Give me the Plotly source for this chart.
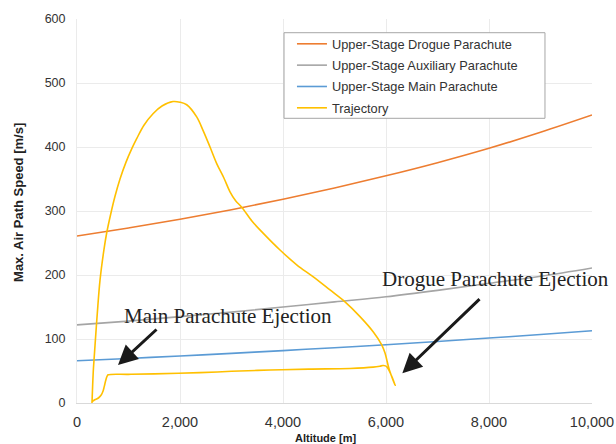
import plotly.graph_objects as go

# ---- data ----
alt_grid = [0, 1000, 2000, 3000, 4000, 5000, 6000, 7000, 8000, 9000, 10000]
drogue = [261, 273.5, 287, 302, 318.5, 336, 355, 375.5, 398, 423, 450]
auxiliary = [122, 128, 135, 142, 150, 158, 166, 176, 187, 198, 211]
main = [66, 69.6, 73.5, 77.6, 81.9, 86.4, 91.1, 96.2, 101.5, 107.1, 113]

traj_alt = [291, 305, 320, 350, 394, 447, 524, 577, 654, 738, 835, 950, 1062, 1159, 1300, 1476, 1650,
            1864, 2000, 2130, 2324, 2447, 2583, 2713, 2850, 2971, 3080, 3198, 3400, 3618, 3942,
            4266, 4589, 4913, 5204, 5495, 5754, 5917, 5981, 6064, 6175,
            6120, 6064, 6030, 5990, 5940, 5880, 5750, 5300, 4500, 3748, 3000, 2388,
            1500, 1000, 605, 585, 560, 530, 508, 480, 443, 400, 345, 293]
traj_spd = [0, 30, 55, 90, 140, 192, 240, 266, 295, 323, 350, 376, 397, 413, 434, 452, 464,
            471, 470, 466, 447, 426, 400, 374, 352, 330, 316, 306, 284, 265, 239,
            216, 197, 176.6, 158, 135, 111, 91, 78, 52, 28,
            40, 50, 55, 58, 58.5, 57.5, 56, 54, 53, 51.5, 49.5, 47.4,
            45.5, 44.8, 44, 42, 36, 26, 19, 14, 10, 7, 5, 2]

x_ticks = [0, 2000, 4000, 6000, 8000, 10000]
y_ticks = [0, 100, 200, 300, 400, 500, 600]

fig = go.Figure()
fig.add_trace(go.Scatter(x=alt_grid, y=drogue, mode="lines", name="Upper-Stage Drogue Parachute",
                         legendgroup="a", line=dict(color="#ED7D31", width=1.6, shape="spline")))
fig.add_trace(go.Scatter(x=alt_grid, y=auxiliary, mode="lines", name="Upper-Stage Auxiliary Parachute",
                         legendgroup="b", line=dict(color="#A5A5A5", width=1.6, shape="spline")))
fig.add_trace(go.Scatter(x=alt_grid, y=main, mode="lines", name="Upper-Stage Main Parachute",
                         legendgroup="c", line=dict(color="#5B9BD5", width=1.6, shape="spline")))
fig.add_trace(go.Scatter(x=traj_alt, y=traj_spd, mode="lines", name="Trajectory",
                         legendgroup="d",
                         line=dict(color="#FFC000", width=1.6, shape="spline", smoothing=1.0)))

axis_font = dict(family="Liberation Sans, Arial", color="#333333")
fig.update_layout(
    width=616, height=444,
    margin=dict(l=77, r=24, t=19, b=41, autoexpand=False),
    paper_bgcolor="white", plot_bgcolor="white",
    showlegend=True,
    legend=dict(x=0.4174, y=0.974, xanchor="left", yanchor="top",
                bgcolor="rgba(0,0,0,0)", borderwidth=0, tracegroupgap=1.7,
                font=dict(family="Liberation Sans, Arial", size=12.8, color="#333333")),
    xaxis=dict(range=[0, 10000], tickvals=x_ticks, tickformat=",", showgrid=True,
               gridcolor="#EBEBEB", zeroline=False, showline=True, linecolor="#D9D9D9",
               ticks="", ticklabelstandoff=6, automargin=False,
               tickfont=dict(size=14.5, **axis_font)),
    yaxis=dict(range=[0, 600], tickvals=y_ticks, showgrid=True, gridcolor="#EBEBEB",
               zeroline=False, showline=True, linecolor="#EBEBEB", ticks="",
               ticklabelstandoff=8, automargin=False,
               tickfont=dict(size=12.5, **axis_font)),
)

# legend frame
fig.add_shape(type="rect", xref="paper", yref="paper", x0=0.402, x1=0.9087, y0=0.7414, y1=0.9643,
              line=dict(color="#A6A6A6", width=1), fillcolor="white", layer="above")

serif = dict(family="Liberation Serif, Times New Roman", size=21, color="#222222")
fig.add_annotation(xref="paper", yref="paper", x=-58/515, y=0.521, text="<b>Max. Air Path Speed [m/s]</b>",
                   textangle=-90, showarrow=False, xanchor="center", yanchor="middle",
                   font=dict(family="Liberation Sans, Arial", size=13, color="#222222"))
fig.add_annotation(xref="paper", yref="paper", x=0.4816, y=-0.0899, text="<b>Altitude [m]</b>",
                   showarrow=False, xanchor="center", yanchor="middle",
                   font=dict(family="Liberation Sans, Arial", size=11, color="#222222"))
fig.add_annotation(x=874, y=136, text="Main Parachute Ejection", showarrow=False,
                   xanchor="left", yanchor="middle", font=serif)
fig.add_annotation(x=5883, y=194, text="Drogue Parachute Ejection", showarrow=False,
                   xanchor="left", yanchor="middle", font=serif)
fig.add_annotation(x=796, y=59.4, ax=1573, ay=117, axref="x", ayref="y", text="",
                   showarrow=True, arrowhead=2, arrowsize=1.3, arrowwidth=3, arrowcolor="#1A1A1A")
fig.add_annotation(x=6317, y=46.4, ax=7845, ay=164.5, axref="x", ayref="y", text="",
                   showarrow=True, arrowhead=2, arrowsize=1.3, arrowwidth=3, arrowcolor="#1A1A1A")

fig.write_html("out.html", config={"displayModeBar": False},
               post_script="document.body.style.margin='0';")
